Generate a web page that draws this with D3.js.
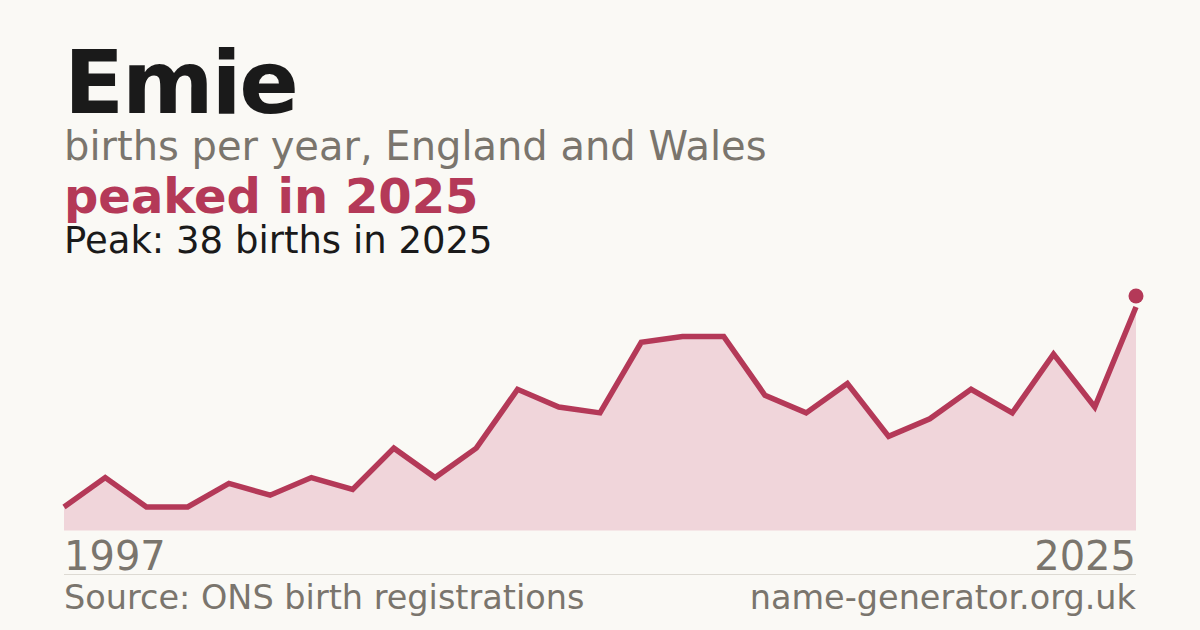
<!DOCTYPE html>
<html>
<head>
<meta charset="utf-8">
<script src="https://cdn.jsdelivr.net/npm/d3@7"></script>
<style>
  html, body { margin: 0; padding: 0; background: #faf9f5; }
  svg { display: block; font-family: "DejaVu Sans", sans-serif; }
</style>
</head>
<body>
<script>
// births per year, one value per recorded year (first 1997, last 2025)
var births = [4, 9, 4, 4, 8, 6, 9, 7, 14, 9, 14, 24, 21, 20, 32, 33, 33, 23, 20, 25, 16, 19, 24, 20, 30, 21, 38];
var yearLabels = ["1997", "2025"];
var peakYear = "2025";

var width = 1200;
var height = 630;

var svg = d3.select("body").append("svg")
    .attr("width", width)
    .attr("height", height);

svg.append("rect")
    .attr("width", width)
    .attr("height", height)
    .attr("fill", "#faf9f5");

// heading block
svg.append("text")
    .attr("x", 64).attr("y", 113)
    .attr("font-size", 88).attr("font-weight", "bold")
    .attr("letter-spacing", -2.2)
    .attr("fill", "#1a1a1a")
    .text("Emie");

svg.append("text")
    .attr("x", 64).attr("y", 160)
    .attr("font-size", 40)
    .attr("fill", "#7a756d")
    .text("births per year, England and Wales");

svg.append("text")
    .attr("x", 64).attr("y", 213)
    .attr("font-size", 48).attr("font-weight", "bold")
    .attr("fill", "#b43958")
    .text("peaked in " + peakYear);

var peakValue = d3.max(births);
svg.append("text")
    .attr("x", 64).attr("y", 253)
    .attr("font-size", 37)
    .attr("fill", "#1a1a1a")
    .text("Peak: " + peakValue + " births in " + peakYear);

// scales: points are evenly spaced by index
var x = d3.scalePoint()
    .domain(d3.range(births.length))
    .range([64, 1136]);

var y = d3.scaleLinear()
    .domain([0, peakValue])
    .range([530.5, 307]);

var area = d3.area()
    .x(function(d, i) { return x(i); })
    .y0(y(0))
    .y1(function(d) { return y(d); });

var line = d3.line()
    .x(function(d, i) { return x(i); })
    .y(function(d) { return y(d); });

svg.append("path")
    .datum(births)
    .attr("d", area)
    .attr("fill", "#f0d5da");

svg.append("path")
    .datum(births)
    .attr("d", line)
    .attr("fill", "none")
    .attr("stroke", "#b43958")
    .attr("stroke-width", 5.5);

// peak marker sits just above the last point
var peakIndex = births.indexOf(peakValue);
svg.append("circle")
    .attr("cx", x(peakIndex))
    .attr("cy", y(peakValue) - 11)
    .attr("r", 7.5)
    .attr("fill", "#b43958");

// first / last year labels
svg.append("text")
    .attr("x", 64).attr("y", 570)
    .attr("font-size", 40)
    .attr("fill", "#7a756d")
    .text(yearLabels[0]);

svg.append("text")
    .attr("x", 1136).attr("y", 570)
    .attr("font-size", 40)
    .attr("text-anchor", "end")
    .attr("fill", "#7a756d")
    .text(yearLabels[1]);

// separator and footer
svg.append("line")
    .attr("x1", 64).attr("x2", 1136)
    .attr("y1", 574.5).attr("y2", 574.5)
    .attr("stroke", "#dddad3")
    .attr("stroke-width", 1);

svg.append("text")
    .attr("x", 64).attr("y", 609)
    .attr("font-size", 33.5)
    .attr("fill", "#7a756d")
    .text("Source: ONS birth registrations");

svg.append("text")
    .attr("x", 1136).attr("y", 609)
    .attr("font-size", 33.5)
    .attr("text-anchor", "end")
    .attr("fill", "#7a756d")
    .text("name-generator.org.uk");
</script>
</body>
</html>
